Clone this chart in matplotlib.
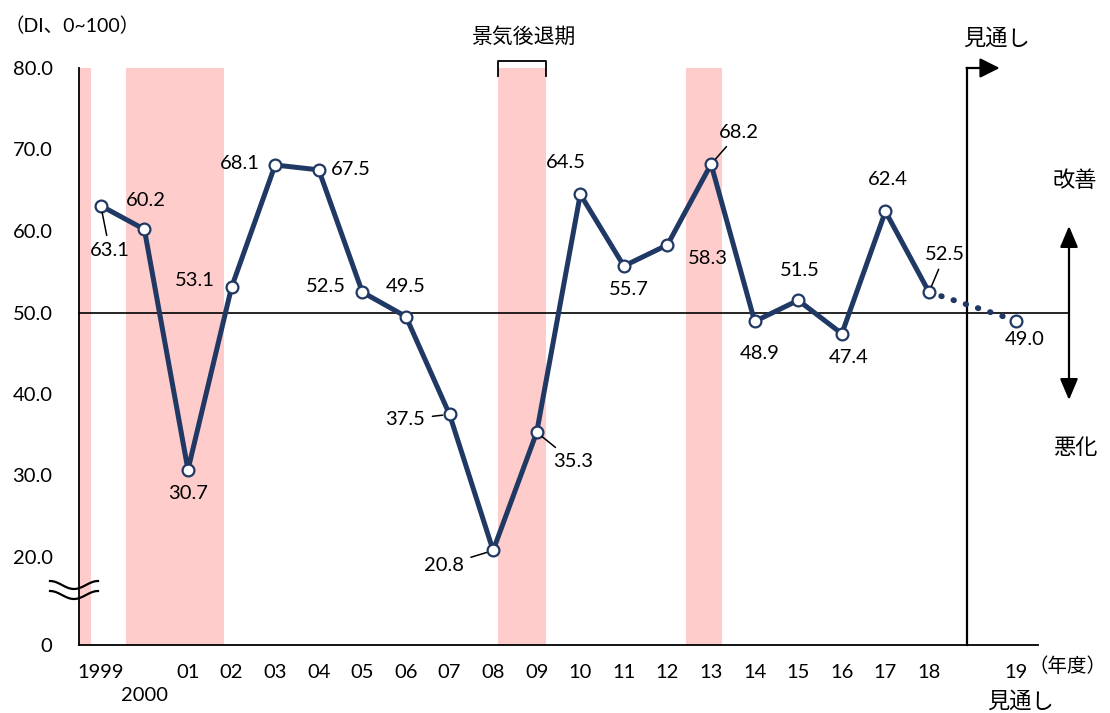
import matplotlib
matplotlib.use("Agg")
import matplotlib.pyplot as plt
from matplotlib.patches import FancyArrowPatch
import numpy as np

plt.rcParams['font.family'] = ['Lato', 'Noto Sans CJK JP', 'DejaVu Sans']

# ---- data ----
years = ["1999", "2000", "01", "02", "03", "04", "05", "06", "07", "08", "09",
         "10", "11", "12", "13", "14", "15", "16", "17", "18", "19"]
xpos = [0, 1, 2, 3, 4, 5, 6, 7, 8, 9, 10, 11, 12, 13, 14, 15, 16, 17, 18, 19, 21]
di = [63.1, 60.2, 30.7, 53.1, 68.1, 67.5, 52.5, 49.5, 37.5, 20.8, 35.3,
      64.5, 55.7, 58.3, 68.2, 48.9, 51.5, 47.4, 62.4, 52.5, 49.0]
recessions = [(-0.5, -0.225), (0.58, 2.83), (9.11, 10.21), (13.43, 14.25)]
yticks = [20, 30, 40, 50, 60, 70, 80]

# label offsets in pixels (dx, dy) and whether a leader line is drawn
offsets = [(9, -45), (1, 29), (0, -24), (-37, 7), (-35, 1), (32, 0), (-36, 6),
           (0, 30), (-44, -5), (-49, -15), (36, -29), (-14, 32), (5, -23),
           (40, -14), (28, 32), (5, -32), (2, 30), (7, -24), (2, 32), (16, 38), (8, -19)]
leaders = {0, 8, 9, 10, 14, 19}

navy = "#203864"
pink = "#FFCCCC"
FS = 14.5
FJ = 15

fig = plt.figure(figsize=(11.10, 7.13), dpi=100)
ax = fig.add_axes([79/1110, 1-645/713, (1038-79)/1110, (645-68)/713])
YB = 20 - (645-557)/8.15
ax.set_xlim(-0.5, 21.5)
ax.set_ylim(YB, 80)

for a, b in recessions:
    ax.axvspan(a, b, color=pink, lw=0, zorder=0)

# 50 line
ax.plot([-0.5, 22.22], [50, 50], color="black", lw=1.2, clip_on=False, zorder=1)

# series
ax.plot(xpos[:-1], di[:-1], color=navy, lw=3.6, zorder=3, solid_capstyle='round')
ax.plot(xpos[-2:], di[-2:], color=navy, lw=4.2, ls=(0, (0.1, 2.1)),
        dash_capstyle='round', zorder=3)
ax.plot(xpos, di, ls='none', marker='o', ms=8.5, mfc='white', mec=navy,
        mew=1.6, zorder=4)

# data labels
for i, (x, y) in enumerate(zip(xpos, di)):
    dx, dy = offsets[i]
    if i in leaders:
        ax.annotate(f"{y:.1f}", xy=(x, y), xytext=(dx, dy), textcoords='offset pixels',
                    ha='center', va='center', fontsize=FS,
                    arrowprops=dict(arrowstyle='-', color='black', lw=1.1,
                                    shrinkA=3, shrinkB=5), zorder=5)
    else:
        ax.annotate(f"{y:.1f}", xy=(x, y), xytext=(dx, dy), textcoords='offset pixels',
                    ha='center', va='center', fontsize=FS, zorder=5)

# axes styling
for s in ['top', 'right']:
    ax.spines[s].set_visible(False)
for s in ['left', 'bottom']:
    ax.spines[s].set_linewidth(1.3)
ax.set_yticks([YB] + yticks)
ax.set_yticklabels(["0"] + [f"{v:.1f}" for v in yticks], fontsize=FS)
ax.set_xticks(xpos)
lbls = [("" if t == "2000" else t) for t in years]
ax.set_xticklabels(lbls, fontsize=FS)
ax.tick_params(length=0, pad=14)
ax.tick_params(axis='y', pad=19)
ax.text(1, -0.087, "2000", transform=ax.get_xaxis_transform(), ha='center',
        va='center', fontsize=FS)

# axis break marks
trans = fig.transFigure
t = np.linspace(0, 1, 50)
for yoff in [0, 10]:
    xs = 50 + 48 * t
    ys = (585 + yoff) + 4 * np.sin(np.pi * (2 * t - 0.5))
    ax.plot(xs / 1110, 1 - ys / 713, transform=trans, color='black', lw=1.6, clip_on=False)

# top texts
fig.text(72/1110, 1-26/713, "（DI、0~100）", ha='center', va='center', fontsize=14)
fig.text(523/1110, 1-37/713, "景気後退期", ha='center', va='center', fontsize=FJ)
ax.plot([9.11, 9.11, 10.21, 10.21], [79.0, 80.9, 80.9, 79.0], color='black', lw=1.3,
        clip_on=False)
fig.text(996/1110, 1-38/713, "見通し", ha='center', va='center', fontsize=FJ + 1)

# outlook line with arrow
xv = 19.87
ax.plot([xv, xv], [YB, 80], color='black', lw=1.6, clip_on=False)
ax.annotate("", xy=(20.62, 80), xytext=(xv - 0.01, 80),
            arrowprops=dict(arrowstyle='-|>,head_length=1.2,head_width=0.6',
                            color='black', lw=1.6, shrinkA=0, shrinkB=0),
            annotation_clip=False)

# bottom right texts
fig.text(1068/1110, 1-666/713, "（年度）", ha='center', va='center', fontsize=14)
fig.text(1020/1110, 1-701/713, "見通し", ha='center', va='center', fontsize=FJ + 1)

# improve / worsen
fig.text(1075/1110, 1-181/713, "改善", ha='center', va='center', fontsize=FJ + 1)
fig.text(1075/1110, 1-448/713, "悪化", ha='center', va='center', fontsize=FJ + 1)
for yend in [226, 400]:
    fig.patches.append(FancyArrowPatch((1069/1110, 1-313/713), (1069/1110, 1-yend/713),
                                       transform=trans,
                                       arrowstyle='-|>,head_length=1.3,head_width=0.55',
                                       color='black', lw=1.6, mutation_scale=10,
                                       shrinkA=0, shrinkB=0))

fig.savefig("out.png", dpi=100)
